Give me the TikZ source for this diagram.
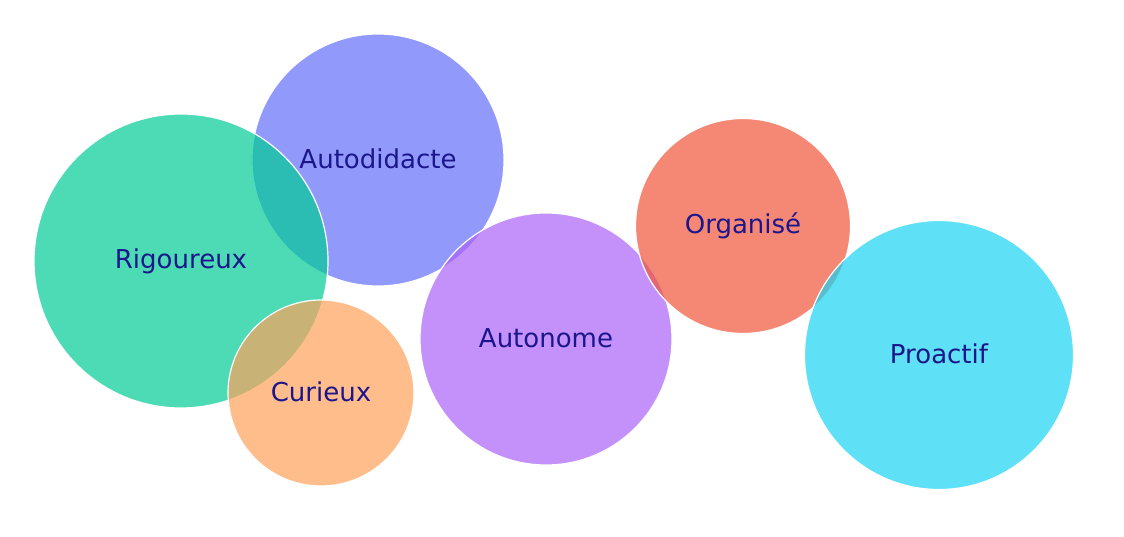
\documentclass[tikz,border=0pt]{standalone}
\usepackage{fontspec}
\setmainfont{DejaVu Sans}
\usepackage{tikz}

\definecolor{labelblue}{RGB}{28,22,140}
\definecolor{cgreen}{HTML}{00CC96}
\definecolor{cblue}{HTML}{636EFA}
\definecolor{corange}{HTML}{FFA15A}
\definecolor{cpurple}{HTML}{AB63FA}
\definecolor{cred}{HTML}{EF553B}
\definecolor{ccyan}{HTML}{19D3F3}

\begin{document}
\begin{tikzpicture}[x=1pt,y=-1pt,bubble/.style={circle,draw=white,line width=1.2pt,inner sep=0pt,fill opacity=0.7,text opacity=1,text=labelblue,font=\fontsize{26}{30}\selectfont}]
				
				\useasboundingbox (0,0) rectangle (1124,537);
				
				\node[bubble,fill=cblue,minimum size=252pt] (1) at (378,160) {\raisebox{2pt}{Autodidacte}};
				\node[bubble,fill=cgreen,minimum size=294pt] (2) at (181,261) {\raisebox{2pt}{Rigoureux}};
				\node[bubble,fill=corange,minimum size=186pt] (3) at (321,393) {\raisebox{2pt}{Curieux}};
				\node[bubble,fill=cpurple,minimum size=252pt] (4) at (546,339) {\raisebox{2pt}{Autonome}};
				\node[bubble,fill=cred,minimum size=215pt] (5) at (743,226) {\raisebox{2pt}{Organisé}};
				\node[bubble,fill=ccyan,minimum size=269pt] (6) at (939,355) {\raisebox{2pt}{Proactif}};
				
				\end{tikzpicture}
\end{document}
